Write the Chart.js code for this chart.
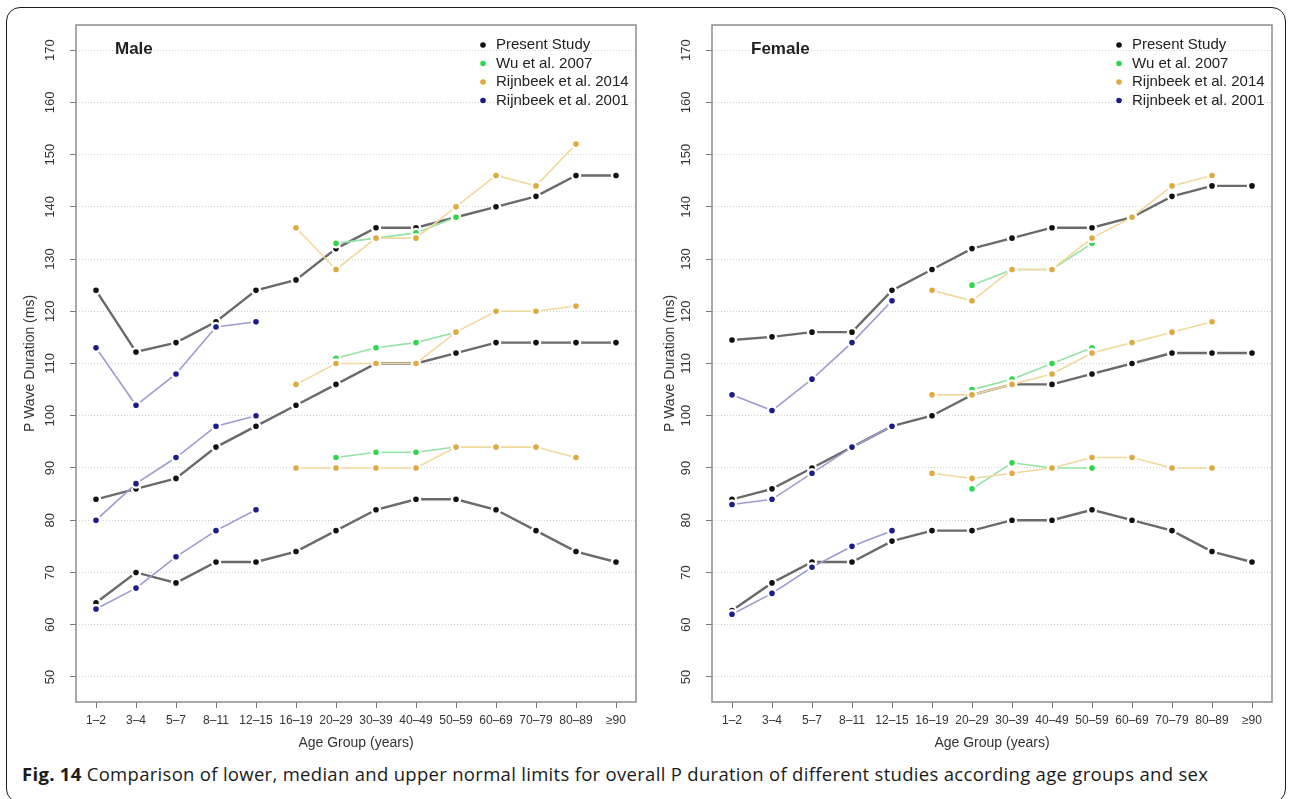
<!DOCTYPE html>
<html>
<head>
<meta charset="utf-8">
<script src="https://cdn.jsdelivr.net/npm/chart.js@4.4.0/dist/chart.umd.min.js"></script>
<style>
  body { margin:0; background:#fff; width:1292px; height:799px; position:relative; overflow:hidden; font-family:'Liberation Sans', Arial, sans-serif; }
  #frame { position:absolute; left:6px; top:7px; width:1280px; height:796px; border:1.5px solid #1a1a1a; border-radius:14px; box-sizing:border-box; }
  .panel { position:absolute; top:0; }
  #caption { position:absolute; left:22px; top:764px; font-family:'Open Sans', sans-serif; font-size:18.5px; letter-spacing:0.3px; line-height:20px; color:#1a1a1a; white-space:nowrap; }
  #caption b { font-weight:700; }
</style>
</head>
<body>
<div id="frame"></div>
<canvas id="maleChart" class="panel" style="left:0px" width="650" height="760"></canvas>
<canvas id="femaleChart" class="panel" style="left:640px" width="650" height="760"></canvas>
<div id="caption"><b>Fig. 14</b> Comparison of lower, median and upper normal limits for overall P duration of different studies according age groups and sex</div>
<script>
const ageGroups = ['1–2','3–4','5–7','8–11','12–15','16–19','20–29','30–39','40–49','50–59','60–69','70–79','80–89','≥90'];
const yTicks = [50,60,70,80,90,100,110,120,130,140,150,160,170];
const yMin = 45.2, yMax = 174.8;

const studyNames = ['Present Study','Wu et al. 2007','Rijnbeek et al. 2014','Rijnbeek et al. 2001'];
const pointColors = ['#111111','#2fd84a','#e0a940','#1c1c8c'];
const lineColors = ['#6a6a6a','#95e2a5','#f1d89c','#9c9cd2'];

// Male
const maleUpperPresent  = [124,112.2,114,118,124,126,132,136,136,138,140,142,146,146];
const maleMedianPresent = [84,86,88,94,98,102,106,110,110,112,114,114,114,114];
const maleLowerPresent  = [64.2,70,68,72,72,74,78,82,84,84,82,78,74,72];
const maleUpperWu  = [null,null,null,null,null,null,133,134,135,138,null,null,null,null];
const maleMedianWu = [null,null,null,null,null,null,111,113,114,116,null,null,null,null];
const maleLowerWu  = [null,null,null,null,null,null,92,93,93,94,null,null,null,null];
const maleUpperR14  = [null,null,null,null,null,136,128,134,134,140,146,144,152,null];
const maleMedianR14 = [null,null,null,null,null,106,110,110,110,116,120,120,121,null];
const maleLowerR14  = [null,null,null,null,null,90,90,90,90,94,94,94,92,null];
const maleUpperR01  = [113,102,108,117,118,null,null,null,null,null,null,null,null,null];
const maleMedianR01 = [80,87,92,98,100,null,null,null,null,null,null,null,null,null];
const maleLowerR01  = [63,67,73,78,82,null,null,null,null,null,null,null,null,null];

// Female
const femaleUpperPresent  = [114.5,115.1,116,116,124,128,132,134,136,136,138,142,144,144];
const femaleMedianPresent = [84,86,90,94,98,100,104,106,106,108,110,112,112,112];
const femaleLowerPresent  = [62.7,68,72,72,76,78,78,80,80,82,80,78,74,72];
const femaleUpperWu  = [null,null,null,null,null,null,125,128,128,133,null,null,null,null];
const femaleMedianWu = [null,null,null,null,null,null,105,107,110,113,null,null,null,null];
const femaleLowerWu  = [null,null,null,null,null,null,86,91,90,90,null,null,null,null];
const femaleUpperR14  = [null,null,null,null,null,124,122,128,128,134,138,144,146,null];
const femaleMedianR14 = [null,null,null,null,null,104,104,106,108,112,114,116,118,null];
const femaleLowerR14  = [null,null,null,null,null,89,88,89,90,92,92,90,90,null];
const femaleUpperR01  = [104,101,107,114,122,null,null,null,null,null,null,null,null,null];
const femaleMedianR01 = [83,84,89,94,98,null,null,null,null,null,null,null,null,null];
const femaleLowerR01  = [62,66,71,75,78,null,null,null,null,null,null,null,null,null];

const maleSeries = [
  [maleUpperPresent, maleMedianPresent, maleLowerPresent],
  [maleUpperWu, maleMedianWu, maleLowerWu],
  [maleUpperR14, maleMedianR14, maleLowerR14],
  [maleUpperR01, maleMedianR01, maleLowerR01]
];
const femaleSeries = [
  [femaleUpperPresent, femaleMedianPresent, femaleLowerPresent],
  [femaleUpperWu, femaleMedianWu, femaleLowerWu],
  [femaleUpperR14, femaleMedianR14, femaleLowerR14],
  [femaleUpperR01, femaleMedianR01, femaleLowerR01]
];

const fontFam = "'Liberation Sans', Arial, sans-serif";

const buildSets = (series) => {
  const sets = [];
  series.forEach((limits, s) => {
    limits.forEach((arr) => {
      sets.push({
        label: studyNames[s],
        data: arr,
        borderColor: lineColors[s],
        borderWidth: s === 0 ? 2.4 : 1.6,
        pointBackgroundColor: pointColors[s],
        pointBorderColor: '#ffffff',
        pointBorderWidth: 2.4,
        pointRadius: 4,
        pointHoverRadius: 4,
        tension: 0,
        order: 4 - s
      });
    });
  });
  return sets;
};

// box, panel name and legend drawn inside the plot area
const panelDeco = {
  id: 'panelDeco',
  beforeDatasetsDraw(chart) {
    const {ctx, chartArea: a} = chart;
    ctx.save();
    ctx.strokeStyle = '#8c8c8c';
    ctx.lineWidth = 1.5;
    ctx.strokeRect(a.left, a.top, a.right - a.left, a.bottom - a.top);
    ctx.restore();
  },
  afterDraw(chart, args, opts) {
    const {ctx, chartArea: a} = chart;
    ctx.save();
    ctx.textBaseline = 'middle';
    ctx.fillStyle = '#222';
    ctx.font = 'bold 17px ' + fontFam;
    ctx.fillText(opts.label, a.left + 39, a.top + 24);
    ctx.font = '15px ' + fontFam;
    studyNames.forEach((n, i) => {
      const y = a.top + 20 + i * 18.5;
      ctx.beginPath();
      ctx.arc(a.right - 153, y, 2.8, 0, 2 * Math.PI);
      ctx.fillStyle = pointColors[i];
      ctx.fill();
      ctx.fillStyle = '#222';
      ctx.fillText(n, a.right - 140, y);
    });
    ctx.restore();
  }
};

const makeChart = (id, series, label, yWidth, padRight) => {
  return new Chart(document.getElementById(id), {
    type: 'line',
    data: { labels: ageGroups, datasets: buildSets(series) },
    options: {
      responsive: false,
      animation: false,
      devicePixelRatio: 1,
      layout: { padding: { left: 0, top: 25, right: padRight, bottom: 0 } },
      plugins: { legend: { display: false }, tooltip: { enabled: false }, panelDeco: { label: label } },
      scales: {
        x: {
          offset: true,
          grid: { drawOnChartArea: false, tickLength: 6, color: '#777' },
          border: { display: false },
          ticks: { font: { family: fontFam, size: 12 }, color: '#333', padding: 5, minRotation: 0, maxRotation: 0, autoSkip: false },
          title: { display: true, text: 'Age Group (years)', font: { family: fontFam, size: 14 }, color: '#333', padding: { top: 0, bottom: 8 } },
          afterFit: (s) => { s.height = 58; }
        },
        y: {
          min: yMin,
          max: yMax,
          afterBuildTicks: (s) => { s.ticks = yTicks.map(v => ({ value: v })); },
          grid: { color: '#d0d0d0', tickColor: '#777', tickLength: 6, tickBorderDash: [] },
          border: { display: false, dash: [1, 2] },
          ticks: { font: { family: fontFam, size: 13 }, color: '#333', padding: 9, minRotation: 90, maxRotation: 90, crossAlign: 'center', autoSkip: false },
          title: { display: true, text: 'P Wave Duration (ms)', font: { family: fontFam, size: 14 }, color: '#333', padding: { top: 22, bottom: 0 } },
          afterFit: (s) => { s.width = yWidth; }
        }
      }
    },
    plugins: [panelDeco]
  });
};

makeChart('maleChart', maleSeries, 'Male', 76, 14);
makeChart('femaleChart', femaleSeries, 'Female', 72, 18);
</script>
</body>
</html>
